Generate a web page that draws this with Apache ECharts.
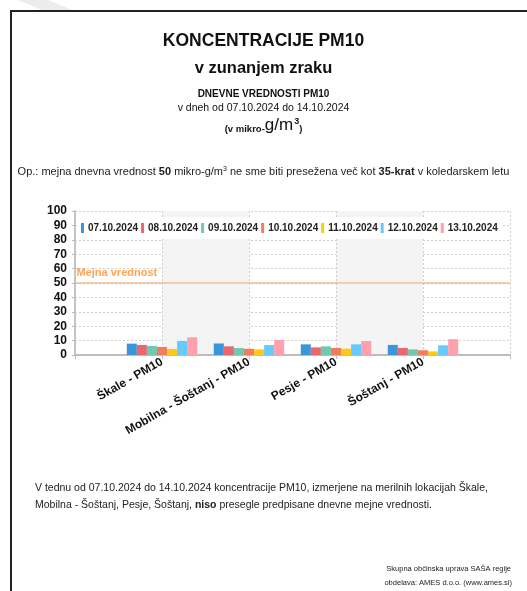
<!DOCTYPE html>
<html><head><meta charset="utf-8">
<script src="https://cdn.jsdelivr.net/npm/echarts@6/dist/echarts.min.js"></script>
<style>html,body{margin:0;padding:0;background:#fff}#c{width:527px;height:591px}</style>
</head><body><div id="c"></div>
<script>
const categories = ['', 'Škale - PM10', 'Mobilna - Šoštanj - PM10', 'Pesje - PM10', 'Šoštanj - PM10', ''];
const dates = ['07.10.2024','08.10.2024','09.10.2024','10.10.2024','11.10.2024','12.10.2024','13.10.2024'];
// values per date, per station [Škale, Mobilna-Šoštanj, Pesje, Šoštanj]
const d07 = [7.9, 8.0, 7.4, 7.0];
const d08 = [7.0, 6.0, 5.3, 4.9];
const d09 = [6.3, 4.8, 6.0, 3.9];
const d10 = [5.6, 4.3, 4.9, 3.3];
const d11 = [4.2, 3.9, 4.4, 2.5];
const d12 = [9.8, 6.9, 7.4, 6.7];
const d13 = [12.3, 10.5, 9.7, 11.0];
const limitValue = 50;
const limitLabel = 'Mejna vrednost';
const yTicks = [0,10,20,30,40,50,60,70,80,90,100];

const seriesData = [d07,d08,d09,d10,d11,d12,d13];
const colors = ['#3a96d8','#e8686f','#6fc9b0','#f07d5c','#ffc918','#66c9ff','#ffa0ae'];
const F = "'Liberation Sans', Arial, sans-serif";
const N = "'Liberation Sans Narrow', 'Liberation Sans', sans-serif";

const series = seriesData.map((arr, i) => ({
  name: dates[i], type: 'bar', barGap: '0%', barCategoryGap: '19%',
  itemStyle: {color: colors[i]},
  data: [null].concat(arr).concat([null])
}));
series.push({
  name: 'limit', type: 'line', silent: true, z: 3,
  symbol: 'circle', symbolSize: 1, showSymbol: true,
  itemStyle: {color: 'rgba(0,0,0,0)', borderWidth: 0},
  lineStyle: {color: '#f3a45e', width: 1.2, type: 'solid'},
  label: {show: false},
  data: categories.map((c, i) => i === 0 ? {
    value: limitValue,
    label: {show: true, position: [2, -15], formatter: limitLabel, color: '#ffa54f', fontWeight: 'bold', fontSize: 11, fontFamily: F}
  } : limitValue)
});

const chart = echarts.init(document.getElementById('c'), null, {renderer: 'canvas'});
chart.setOption({
  animation: false,
  backgroundColor: '#fff',
  textStyle: {fontFamily: F},
  title: [
    {text: 'KONCENTRACIJE PM10', left: 'center', top: 27, textStyle: {fontSize: 17.5, fontWeight: 'bold', color: '#111', fontFamily: F}},
    {text: 'v zunanjem zraku', left: 'center', top: 55, textStyle: {fontSize: 16.5, fontWeight: 'bold', color: '#111', fontFamily: F}},
    {text: 'DNEVNE VREDNOSTI PM10', left: 'center', top: 84, textStyle: {fontSize: 10, fontWeight: 'bold', color: '#111', fontFamily: F}},
    {text: 'v dneh od 07.10.2024 do 14.10.2024', left: 'center', top: 98, textStyle: {fontSize: 10.5, fontWeight: 'normal', color: '#111', fontFamily: F}},
    {text: '{a|(v mikro-}{b|g/m}{c|3}{a|)}', left: 'center', top: 112, textStyle: {fontWeight: 'normal', rich: {
      a: {fontSize: 9.5, color: '#111', fontFamily: F, fontWeight: 'bold', verticalAlign: 'bottom'},
      b: {fontSize: 17, color: '#111', fontFamily: F, fontWeight: 'normal', verticalAlign: 'bottom'},
      c: {fontSize: 9, color: '#111', fontFamily: F, fontWeight: 'bold', verticalAlign: 'top', padding: [0,0,6,1]}
    }}},
    {text: '{n|Op.: mejna dnevna vrednost }{b|50}{n| mikro-g/m}{s|3}{n| ne sme biti presežena več kot }{b|35-krat}{n| v koledarskem letu}', left: 'center', top: 161, textStyle: {fontWeight: 'normal', rich: {
      n: {fontSize: 11, color: '#222', fontWeight: 'normal', fontFamily: F},
      b: {fontSize: 11, color: '#222', fontWeight: 'bold', fontFamily: F},
      s: {fontSize: 7, color: '#222', fontWeight: 'normal', fontFamily: F, padding: [0,0,5,0]}
    }}},
    {text: 'V tednu od 07.10.2024 do 14.10.2024 koncentracije PM10, izmerjene na merilnih lokacijah Škale,\nMobilna - Šoštanj, Pesje, Šoštanj, {b|niso} presegle predpisane dnevne mejne vrednosti.', left: 35, top: 480, padding: 0,
      textStyle: {fontSize: 10.5, color: '#222', fontWeight: 'normal', fontFamily: F, lineHeight: 17, rich: {b: {fontSize: 10.5, fontWeight: 'bold', color: '#222', fontFamily: F, lineHeight: 17}}}},
    {text: 'Skupna občinska uprava SAŠA regije', right: 11, top: 560, textStyle: {fontSize: 7.5, color: '#222', fontWeight: 'normal', fontFamily: N}},
    {text: 'obdelava: AMES d.o.o. (www.ames.si)', right: 10, top: 574, textStyle: {fontSize: 7.5, color: '#222', fontWeight: 'normal', fontFamily: N}}
  ],
  graphic: [
    {type: 'polygon', shape: {points: [[18,0],[48,0],[72,10],[42,10]]}, style: {fill: '#ececec'}, z: -1},
    {type: 'rect', shape: {x: 11, y: 11, width: 700, height: 700}, style: {fill: 'none', stroke: '#222', lineWidth: 2}}
  ],
  legend: {
    data: dates, left: 77, top: 217, itemWidth: 3, itemHeight: 10, itemGap: 3,
    backgroundColor: '#fff', padding: [6, 4, 6, 4],
    icon: 'rect',
    textStyle: {fontSize: 10, fontWeight: 'bold', color: '#222', fontFamily: F, padding: [0,0,0,-1]}
  },
  grid: {left: 75, right: 17, top: 211, bottom: 236, containLabel: false},
  xAxis: {
    type: 'category', data: categories, boundaryGap: false,
    axisLine: {lineStyle: {color: '#bdbdbd', width: 2}},
    axisTick: {show: true, lineStyle: {color: '#bdbdbd'}, length: 4},
    axisLabel: {rotate: 30, fontSize: 12, fontWeight: 'bold', color: '#111', fontFamily: F, margin: 6, interval: 0},
    splitLine: {show: true, lineStyle: {color: '#cfcfcf', type: [2, 2], width: 1}},
    splitArea: {show: true, areaStyle: {color: ['rgba(255,255,255,0)', '#f4f4f4']}}
  },
  yAxis: {
    type: 'value', min: 0, max: 100, interval: 10,
    axisLine: {show: true, lineStyle: {color: '#c4c4c4', width: 2}},
    axisTick: {show: true, length: 3, lineStyle: {color: '#bdbdbd'}},
    axisLabel: {fontSize: 12, fontWeight: 'bold', color: '#111', fontFamily: F, margin: 8,
      formatter: v => yTicks.includes(v) ? String(v) : ''},
    splitLine: {show: true, lineStyle: {color: '#cfcfcf', type: [2, 2], width: 1}}
  },
  series: series
});
</script></body></html>
